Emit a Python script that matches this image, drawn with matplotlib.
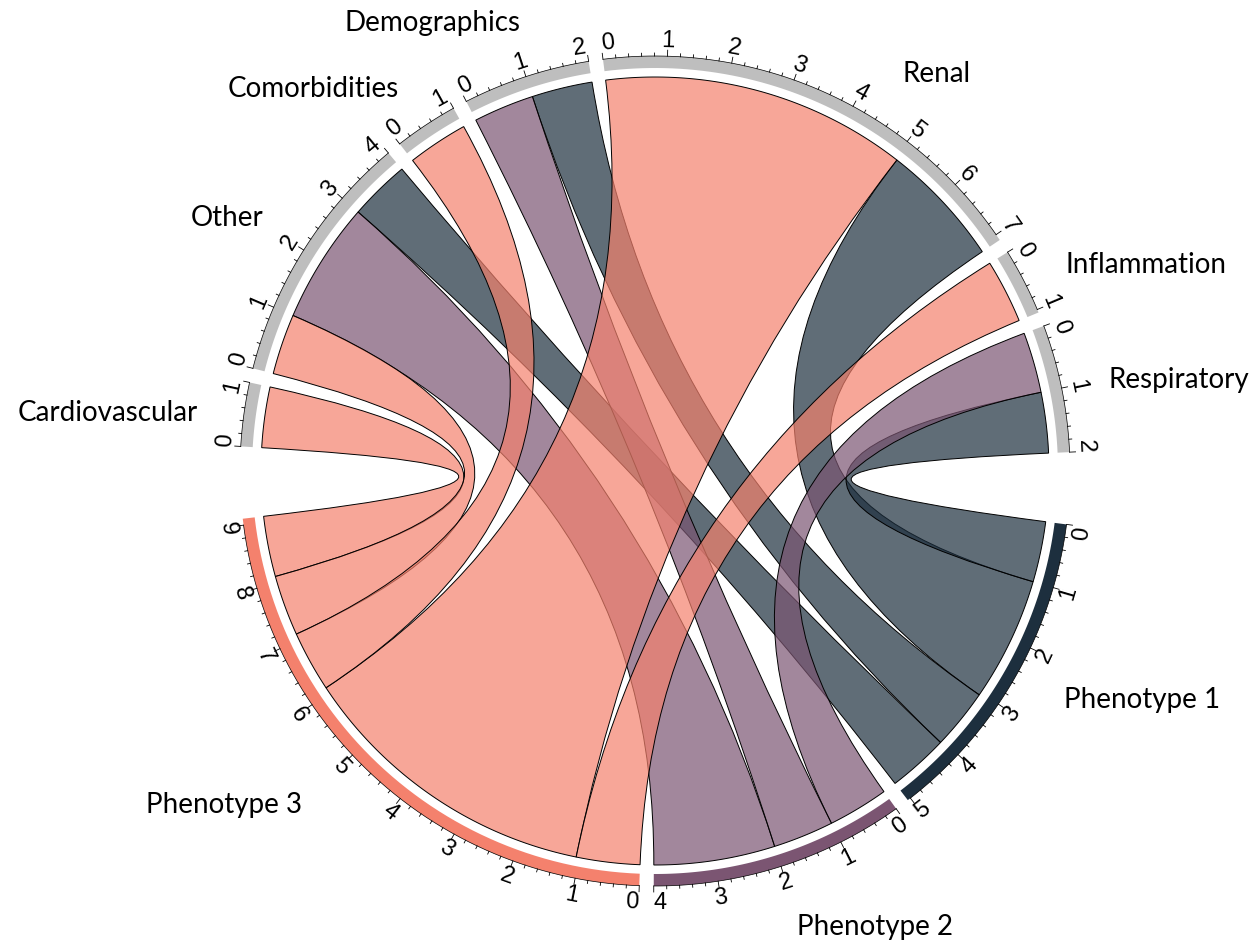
import numpy as np
import matplotlib
matplotlib.use("Agg")
import matplotlib.pyplot as plt
from matplotlib.path import Path
from matplotlib.patches import PathPatch, Polygon

# sectors clockwise, starting at Renal (top)
sectors = ["Renal", "Inflammation", "Respiratory", "Phenotype 1", "Phenotype 2",
           "Phenotype 3", "Cardiovascular", "Other", "Comorbidities", "Demographics"]
gap_after = [2, 2, 10, 2, 2, 10, 2, 2, 2, 2]

link_from = ["Renal", "Renal", "Inflammation", "Respiratory", "Respiratory",
             "Cardiovascular", "Other", "Other", "Other", "Comorbidities",
             "Demographics", "Demographics"]
link_to = ["Phenotype 3", "Phenotype 1", "Phenotype 3", "Phenotype 2", "Phenotype 1",
           "Phenotype 3", "Phenotype 3", "Phenotype 2", "Phenotype 1", "Phenotype 3",
           "Phenotype 2", "Phenotype 1"]
link_value = [5.05, 2.05, 1.05, 1.0, 1.0, 1.0, 1.0, 2.0, 1.0, 1.0, 1.0, 1.0]

pheno_colors = {"Phenotype 1": "#1d2f3e", "Phenotype 2": "#7b5572", "Phenotype 3": "#f4816d"}
grey = "#bebebe"

# where the sector names sit (pixel coords, baseline centre)
name_pos = {"Demographics": (433, 31), "Renal": (937, 82), "Comorbidities": (313, 97),
            "Inflammation": (1146, 273), "Other": (227, 226), "Respiratory": (1179, 388),
            "Cardiovascular": (108, 421), "Phenotype 1": (1142, 708),
            "Phenotype 3": (224, 813), "Phenotype 2": (875, 935)}

cx, cy = 655, 472
r_link = 394
r_in, r_out = 403, 415
r_lab = 431
half_w = 6.5  # half a digit, px
start_deg = 97.2

n = len(sectors)
totals = np.zeros(n)
for f, t, v in zip(link_from, link_to, link_value):
    totals[sectors.index(f)] += v
    totals[sectors.index(t)] += v
unit = (360 - sum(gap_after)) / totals.sum()

sec_start = []
a = start_deg
for i in range(n):
    sec_start.append(a)
    a -= totals[i] * unit + gap_after[i]


def ang(i, u):
    return sec_start[i] - u * unit


def xy(theta, r):
    t = np.radians(theta)
    return cx + r * np.cos(t), cy - r * np.sin(t)


def arc(t0, t1, r, num=60):
    ts = np.linspace(t0, t1, num)
    x, y = xy(ts, r)
    return np.column_stack([x, y])


# place the link ends inside each sector
ends = {}
for i in range(n):
    cur = 0.0
    for k in range(1, n):
        j = (i - k) % n
        for li, (f, t, v) in enumerate(zip(link_from, link_to, link_value)):
            fi, ti = sectors.index(f), sectors.index(t)
            if (fi == i and ti == j) or (ti == i and fi == j):
                ends[(li, i)] = (cur, cur + v)
                cur += v

fig = plt.figure(figsize=(12.59, 9.45), dpi=100)
ax = fig.add_axes([0, 0, 1, 1])
ax.set_xlim(0, 1259)
ax.set_ylim(945, 0)
ax.axis("off")

# dark links underneath, salmon on top
order = sorted(range(len(link_value)), key=lambda q: sectors.index(link_to[q]))
for z, li in enumerate(order):
    f, t = link_from[li], link_to[li]
    fi, ti = sectors.index(f), sectors.index(t)
    a0, a1 = ends[(li, fi)]
    b0, b1 = ends[(li, ti)]
    pa = arc(ang(fi, a0), ang(fi, a1), r_link)
    pb = arc(ang(ti, b0), ang(ti, b1), r_link)
    verts = list(pa) + [(cx, cy), pb[0]] + list(pb[1:]) + [(cx, cy), pa[0], pa[0]]
    codes = ([Path.MOVETO] + [Path.LINETO] * (len(pa) - 1) + [Path.CURVE3] * 2
             + [Path.LINETO] * (len(pb) - 1) + [Path.CURVE3] * 2 + [Path.CLOSEPOLY])
    ax.add_patch(PathPatch(Path(verts, codes), facecolor=pheno_colors[t], alpha=0.7,
                           edgecolor="none", zorder=2 + z * 0.01))
    ax.add_patch(PathPatch(Path(verts, codes), facecolor="none", edgecolor="black",
                           lw=0.7, zorder=2 + z * 0.01))

deg_px = 180 / np.pi / r_lab  # degrees per px along label circle
for i, s in enumerate(sectors):
    t0, t1 = ang(i, 0), ang(i, totals[i])
    poly = np.vstack([arc(t0, t1, r_out), arc(t1, t0, r_in)])
    ax.add_patch(Polygon(poly, closed=True, facecolor=pheno_colors.get(s, grey),
                         edgecolor="none", zorder=3))
    # axis line and ticks
    top = int(np.floor(totals[i] + 1e-9))
    ln = arc(t0, ang(i, top), r_out)
    ax.plot(ln[:, 0], ln[:, 1], color="black", lw=0.5, zorder=4)
    for k in range(int(np.floor(totals[i] * 5 + 1e-9)) + 1):
        u = k / 5
        th = ang(i, u)
        major = k % 5 == 0
        x0, y0 = xy(th, r_out)
        x1, y1 = xy(th, r_out + (6 if major else 3))
        ax.plot([x0, x1], [y0, y1], color="black", lw=0.6, zorder=4)
        if major:
            # keep first / last label inside the sector
            lt = th
            if k == 0:
                lt = th - half_w * deg_px
            elif k // 5 == top:
                room = (totals[i] - top) * unit / deg_px
                lt = th + max(0.0, half_w - room) * deg_px
            tx, ty = xy(lt, r_lab)
            thn = (th + 180) % 360 - 180
            rot = thn - 90 if thn >= 0 else thn + 90
            ax.text(tx, ty, str(k // 5), rotation=rot, rotation_mode="anchor",
                    ha="center", va="center", fontsize=17,
                    family=["Liberation Sans", "DejaVu Sans"], zorder=5)
    nx, ny = name_pos[s]
    ax.text(nx, ny, s, ha="center", va="baseline", fontsize=20,
            family=["Lato", "DejaVu Sans"], zorder=5)

fig.savefig("out.png", dpi=100)
